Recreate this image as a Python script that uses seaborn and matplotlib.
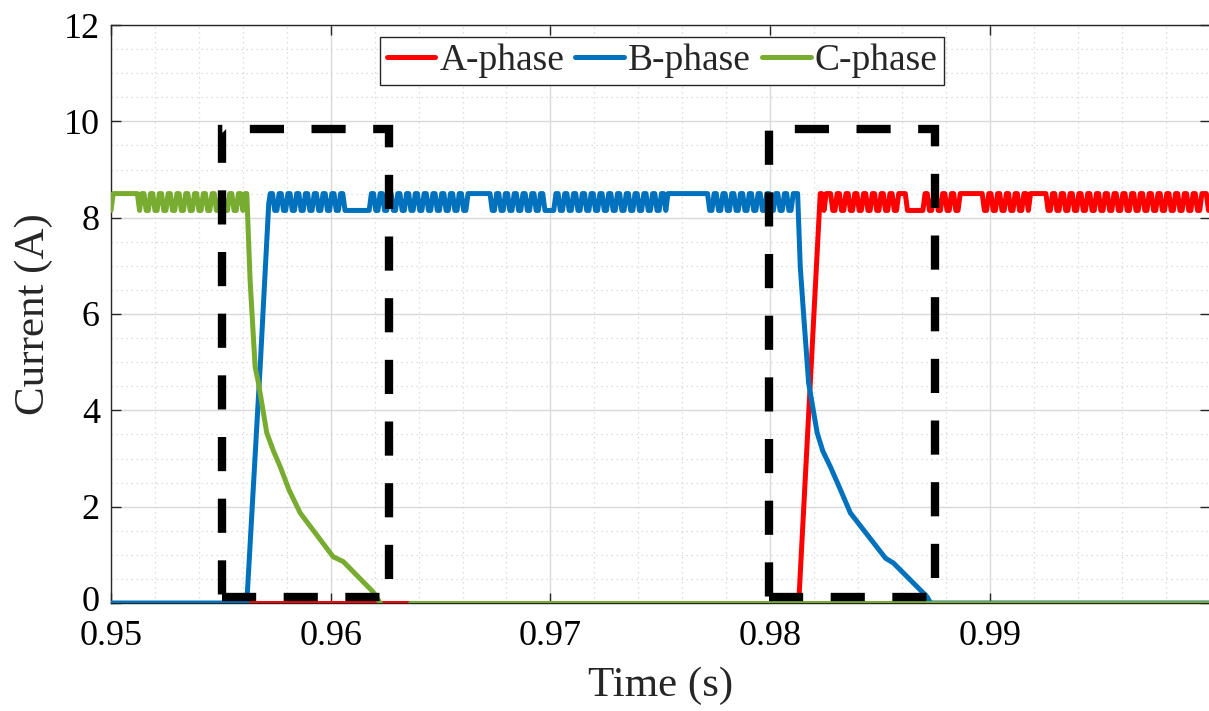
import numpy as np
import pandas as pd
import matplotlib
matplotlib.use("Agg")
import matplotlib.pyplot as plt
import matplotlib.transforms as mtransforms
import seaborn as sns
from matplotlib.patches import Rectangle
from matplotlib.ticker import MultipleLocator

# ---------------- data ----------------
DT = 1e-4                 # sample step of the chopping records (s)
LEVEL_HI, LEVEL_LO = 8.5, 8.15   # hysteresis band of the current (A)

# chopping records: '1' = upper band, '0' = lower band, one char per DT
green_chop_t0 = 0.95
green_chop = ("0111111111111"
              "0110 0110 0110 0110 0110 0110 0110 0110 0110 0110 0110 0110"
              "1")
blue_chop_t0 = 0.95725
blue_chop = ("1100 1100 1100 1100 1100 1100 1100 1100 110"
             "00000000000"
             "1100 1100 1100 1100 1100 1100 1100 1100 1100 1100 1100 1"
             "1111111111"
             "0011 0011 0011 0011 0011 0011 00"
             "000"
             "1100 1100 1100 1100 1100 1100 1100 1100 1100 1100 1100 1100 110"
             "1111111111111111111"
             "0011 0011 0011 0011 0011 0011 0011 0011 0011 001")
red_chop_t0 = 0.98235
red_chop = ("10111 0011 0011 0011 0011 0011 0011 0011 0011 110"
            "0000000"
            "1100 1100 1100 1100 11"
            "111111111"
            "0011 0011 0011 0011 0011 0"
            "11111111"
            "0011 0011 0011 0011 0011 0011 0011 0011 0011 0011 0011 0011 0011 0011 0011 0011 0011 0011"
            "10")

# transitions (commutation events)
green_fall_t = [0.95618, 0.95633, 0.95656, 0.95671, 0.95709, 0.95740, 0.95770,
                0.95810, 0.95861, 0.96011, 0.96057, 0.96193, 0.96225]
green_fall_i = [8.5, 6.7, 4.9, 4.57, 3.53, 3.15, 2.83, 2.35, 1.87, 0.96, 0.86, 0.23, 0.0]
green_zero_t = [0.96362, 1.0]
green_zero_i = [0.0, 0.0]

blue_rise_t = [0.95, 0.95618, 0.95650, 0.95680, 0.95705, 0.95718]
blue_rise_i = [0.0, 0.0, 2.6, 5.0, 7.2, 8.3]
blue_fall_t = [0.98125, 0.98137, 0.98153, 0.98175, 0.98214, 0.98240, 0.98274,
               0.98320, 0.98365, 0.98525, 0.98561, 0.98714, 0.98730, 1.0]
blue_fall_i = [8.5, 6.98, 5.94, 4.57, 3.53, 3.15, 2.83, 2.35, 1.87, 0.93, 0.83, 0.13, 0.0, 0.0]

red_zero_t = [0.95618, 0.96362]
red_zero_i = [0.0, 0.0]
red_rise_t = [0.98130, 0.98228]
red_rise_i = [0.0, 8.5]

# highlighted commutation windows (t_start, t_end, i_low, i_high)
windows = [(0.95504, 0.96263, 0.13, 9.85),
           (0.97993, 0.98752, 0.13, 9.85)]

phases = ["A-phase", "B-phase", "C-phase"]
colors = {"A-phase": "#FF0000", "B-phase": "#0072BD", "C-phase": "#77AC30"}

x_ticks = [0.95, 0.96, 0.97, 0.98, 0.99]
x_tick_labels = ["0.95", "0.96", "0.97", "0.98", "0.99"]
y_ticks = [0, 2, 4, 6, 8, 10, 12]


def chop(t0, pattern):
    s = pattern.replace(" ", "")
    t = t0 + DT * np.arange(len(s))
    v = np.array([LEVEL_HI if c == "1" else LEVEL_LO for c in s])
    return t, v


def piece(phase, t, v, part):
    return pd.DataFrame({"t": np.asarray(t, float), "i": np.asarray(v, float),
                         "phase": phase, "part": part})


gt, gv = chop(green_chop_t0, green_chop)
bt, bv = chop(blue_chop_t0, blue_chop)
rt, rv = chop(red_chop_t0, red_chop)

pieces = [
    piece("A-phase", red_zero_t, red_zero_i, 0),
    piece("A-phase", np.r_[red_rise_t, rt], np.r_[red_rise_i, rv], 1),
    piece("B-phase", np.r_[blue_rise_t, bt, blue_fall_t], np.r_[blue_rise_i, bv, blue_fall_i], 0),
    piece("C-phase", np.r_[gt, green_fall_t], np.r_[gv, green_fall_i], 0),
    piece("C-phase", green_zero_t, green_zero_i, 1),
]

# ---------------- style ----------------
sns.set_style("ticks")
plt.rcParams["font.family"] = ["Liberation Serif", "DejaVu Serif"]
plt.rcParams["axes.edgecolor"] = "#262626"

fig = plt.figure(figsize=(12.09, 7.11), dpi=100)
ax = fig.add_axes([111 / 1209, 1 - 603 / 711, (1209 - 111) / 1209 + 0.0005, (603 - 25) / 711])

handles = {}
for df in pieces:
    ph = df["phase"].iloc[0]
    sns.lineplot(data=df, x="t", y="i", color=colors[ph], lw=3.6, ax=ax,
                 estimator=None, sort=False, legend=False, zorder=3)
    handles[ph] = ax.lines[-1]

for (t0, t1, i0, i1) in windows:
    rect = Rectangle((t0, i0), t1 - t0, i1 - i0, fill=False, edgecolor="black",
                     linewidth=6.0, linestyle=(0, (4.1, 3.3)), joinstyle="miter",
                     capstyle="butt", zorder=4)
    ax.add_patch(rect)

ax.set_xlim(0.95, 1.0)
ax.set_ylim(0, 12)
ax.set_xticks(x_ticks)
ax.set_xticklabels(x_tick_labels)
ax.set_yticks(y_ticks)
ax.xaxis.set_minor_locator(MultipleLocator(0.002))
ax.yaxis.set_minor_locator(MultipleLocator(0.5))
ax.grid(which="major", color="#d9d9d9", lw=1.0, zorder=0)
ax.grid(which="minor", color="#d4d4d4", lw=0.9, ls=(0, (1, 3)), zorder=0)
ax.set_axisbelow(True)

ax.tick_params(which="major", direction="in", length=7, width=1, labelsize=26,
               top=True, right=True, colors="#262626", labelcolor="black")
ax.tick_params(axis="y", which="major", pad=8)
ax.tick_params(axis="x", which="major", pad=12)
ax.tick_params(which="minor", length=0)
for sp in ax.spines.values():
    sp.set_visible(True)
    sp.set_linewidth(1.0)

# nudge the lowest y tick label up slightly so it clears the first x tick label
ylab0 = ax.get_yticklabels()[0]
ylab0.set_transform(ylab0.get_transform() +
                    mtransforms.ScaledTranslation(0, 3 / 72, fig.dpi_scale_trans))

ax.set_xlabel("Time (s)", fontsize=31, labelpad=10)
ax.set_ylabel("Current (A)", fontsize=31, labelpad=8)

leg = ax.legend([handles[p] for p in phases], phases, loc="upper center",
                bbox_to_anchor=(0.5015, 0.98), ncol=3, fontsize=27, frameon=True,
                fancybox=False, edgecolor="#262626", framealpha=1.0,
                handlelength=1.3, handletextpad=0.1, columnspacing=0.3,
                borderpad=0.18, borderaxespad=0)
leg.get_frame().set_linewidth(1.0)

fig.savefig("out.png", dpi=100)
